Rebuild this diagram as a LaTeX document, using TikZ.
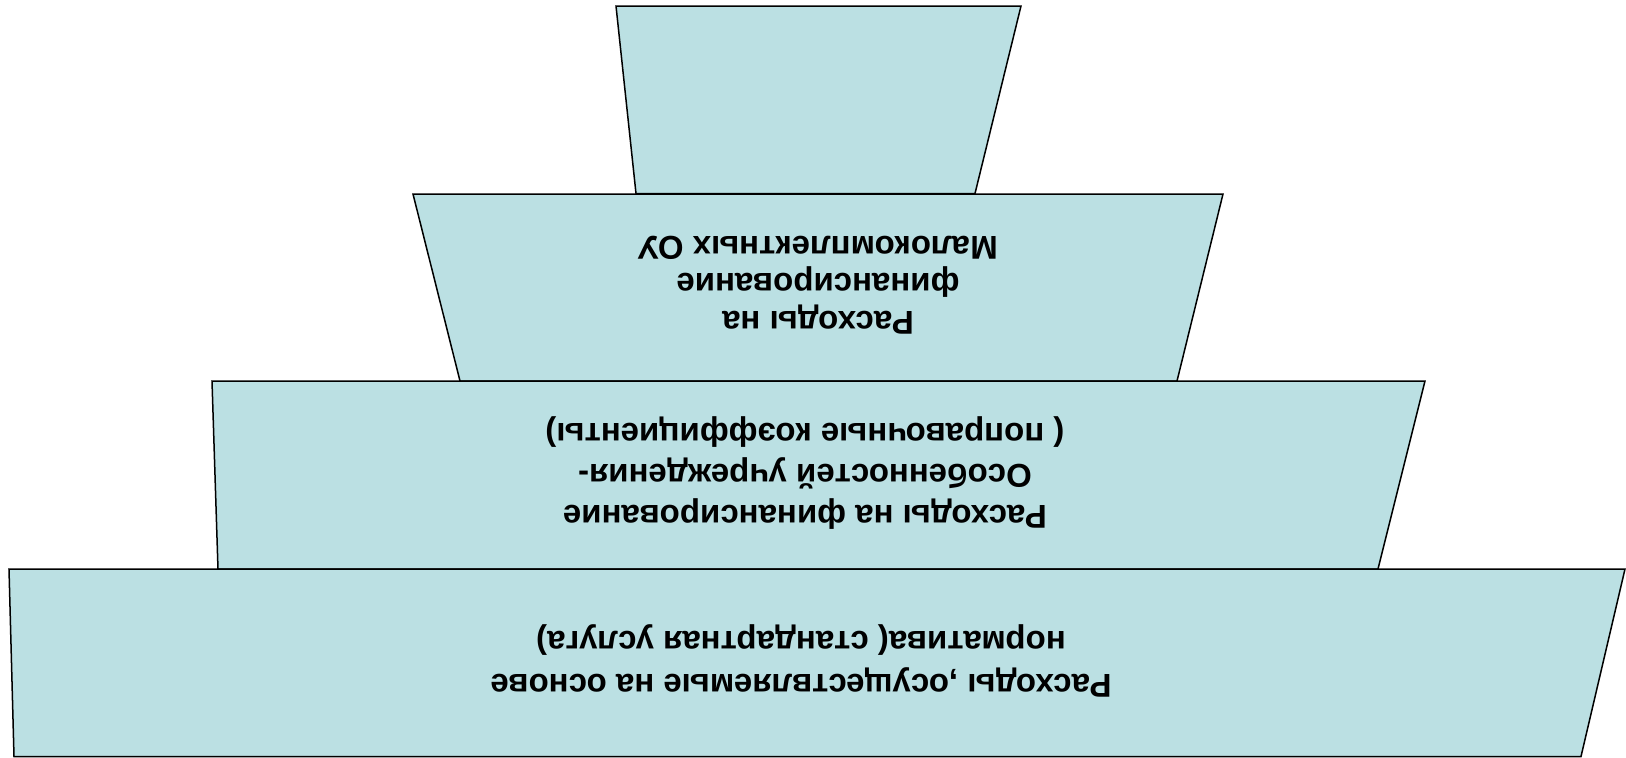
\documentclass[tikz,border=0pt]{standalone}
\usepackage{fontspec}
\setmainfont{Liberation Sans}
\definecolor{tier}{HTML}{BBE0E3}
\begin{document}
\begin{tikzpicture}[x=1pt,y=-1pt,
  tierbox/.style={draw=black,fill=tier,line width=1.5pt,line join=miter},
  tiertext/.style={rotate=180,align=center,font=\fontsize{33}{37.3}\selectfont\bfseries,inner sep=0pt}]
\useasboundingbox (0,0) rectangle (1626,758);
\draw[tierbox] (616,6) -- (1021,6) -- (975,193.5) -- (636,193.5) -- cycle;
\draw[tierbox] (413,194) -- (1223,194) -- (1177,381) -- (460,381) -- cycle;
\draw[tierbox] (212,381) -- (1425,381) -- (1378,569) -- (218,569) -- cycle;
\draw[tierbox] (9,569) -- (1625,569) -- (1581,756.5) -- (14,756.5) -- cycle;
\node[tiertext] (t2) at (818,285) {Расходы на\\финансирование\\Малокомплектных ОУ};
\node[tiertext,font=\fontsize{33}{41}\selectfont\bfseries] (t3) at (805,473) {Расходы на финансирование\\Особенностей учреждения-\\( поправочные коэффициенты)};
\node[tiertext,font=\fontsize{33}{42.5}\selectfont\bfseries] (t4) at (801,661) {Расходы ,осуществляемые на основе\\норматива( стандартная услуга)};
\end{tikzpicture}
\end{document}
